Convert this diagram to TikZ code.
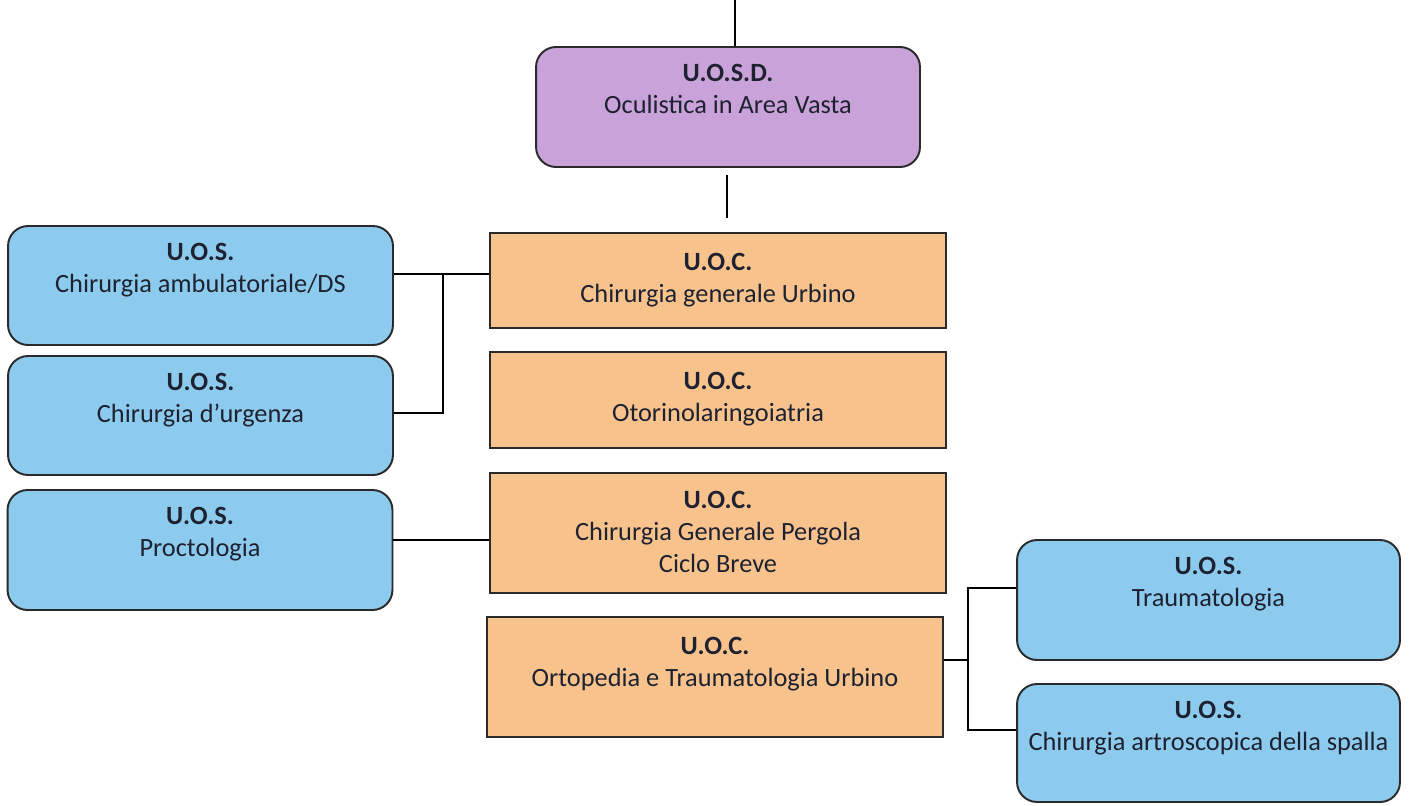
\documentclass[tikz,border=0pt]{standalone}
\usepackage{fontspec}
\setmainfont{Carlito}
\definecolor{purfill}{HTML}{C9A2D9}
\definecolor{orfill}{HTML}{F8C28D}
\definecolor{blfill}{HTML}{8DCBEE}
\definecolor{edge}{HTML}{2A2A2A}
\definecolor{txt}{HTML}{1E2230}
\tikzset{
  basebox/.style={draw=edge, line width=1.1pt, inner sep=0pt},
  purbox/.style={basebox, fill=purfill, rounded corners=0.4cm, minimum width=7.68cm, minimum height=2.4cm},
  orbox/.style={basebox, fill=orfill, minimum width=9.12cm},
  blbox/.style={basebox, fill=blfill, rounded corners=0.4cm, minimum width=7.7cm},
  lbl/.style={anchor=north, inner sep=0pt, align=center, text=txt, font=\fontsize{15}{18.2}\selectfont},
  conn/.style={draw=black, line width=1.1pt},
}
\begin{document}
\begin{tikzpicture}[x=0.02cm,y=-0.02cm]
\useasboundingbox (0,0) rectangle (1412,805);
% purple
\node[purbox] (pur) at (728,107) {};
\node[lbl] (purt) at ([yshift=-0.36cm]pur.north) {\textbf{U.O.S.D.}\\Oculistica in Area Vasta};
% orange
\node[orbox, minimum height=1.9cm] (oc1) at (718,280.5) {};
\node[lbl] (oc1t) at ([yshift=-0.42cm]oc1.north) {\textbf{U.O.C.}\\Chirurgia generale Urbino};
\node[orbox, minimum height=1.92cm] (oc2) at (718,400) {};
\node[lbl] (oc2t) at ([yshift=-0.42cm]oc2.north) {\textbf{U.O.C.}\\Otorinolaringoiatria};
\node[orbox, minimum height=2.4cm] (oc3) at (718,533) {};
\node[lbl] (oc3t) at ([yshift=-0.38cm]oc3.north) {\textbf{U.O.C.}\\Chirurgia Generale Pergola\\Ciclo Breve};
\node[orbox, minimum height=2.4cm] (oc4) at (715,677) {};
\node[lbl] (oc4t) at ([yshift=-0.42cm]oc4.north) {\textbf{U.O.C.}\\Ortopedia e Traumatologia Urbino};
% blue
\node[blbox, minimum height=2.38cm] (b1) at (200.5,285.5) {};
\node[lbl] (b1t) at ([yshift=-0.36cm]b1.north) {\textbf{U.O.S.}\\Chirurgia ambulatoriale/DS};
\node[blbox, minimum height=2.38cm] (b2) at (200.5,415.5) {};
\node[lbl] (b2t) at ([yshift=-0.36cm]b2.north) {\textbf{U.O.S.}\\Chirurgia d’urgenza};
\node[blbox, minimum height=2.4cm] (b3) at (200,550) {};
\node[lbl] (b3t) at ([yshift=-0.36cm]b3.north) {\textbf{U.O.S.}\\Proctologia};
\node[blbox, minimum height=2.4cm, minimum width=7.66cm] (b4) at (1208.5,600) {};
\node[lbl] (b4t) at ([yshift=-0.36cm]b4.north) {\textbf{U.O.S.}\\Traumatologia};
\node[blbox, minimum height=2.36cm, minimum width=7.66cm] (b5) at (1208.5,743) {};
\node[lbl] (b5t) at ([yshift=-0.36cm]b5.north) {\textbf{U.O.S.}\\Chirurgia artroscopica della spalla};
% connectors
\coordinate (top) at (735,0);
\draw[conn] (top) -- (top |- pur.north);
\coordinate (sa) at (727,175);
\coordinate (sb) at (727,218);
\draw[conn] (sa) -- (sb);
\coordinate (j1) at (443,274);
\draw[conn] (b1.east |- j1) -- (oc1.west |- j1);
\coordinate (j2) at (443,413);
\draw[conn] (j1) -- (j2) -- (b2.east |- j2);
\coordinate (j3) at (440,540);
\draw[conn] (b3.east |- j3) -- (oc3.west |- j3);
\coordinate (j4) at (968,660);
\coordinate (j5) at (968,588);
\coordinate (j6) at (968,730);
\draw[conn] (oc4.east |- j4) -- (j4);
\draw[conn] (b4.west |- j5) -- (j5) -- (j6) -- (b5.west |- j6);
\end{tikzpicture}
\end{document}
